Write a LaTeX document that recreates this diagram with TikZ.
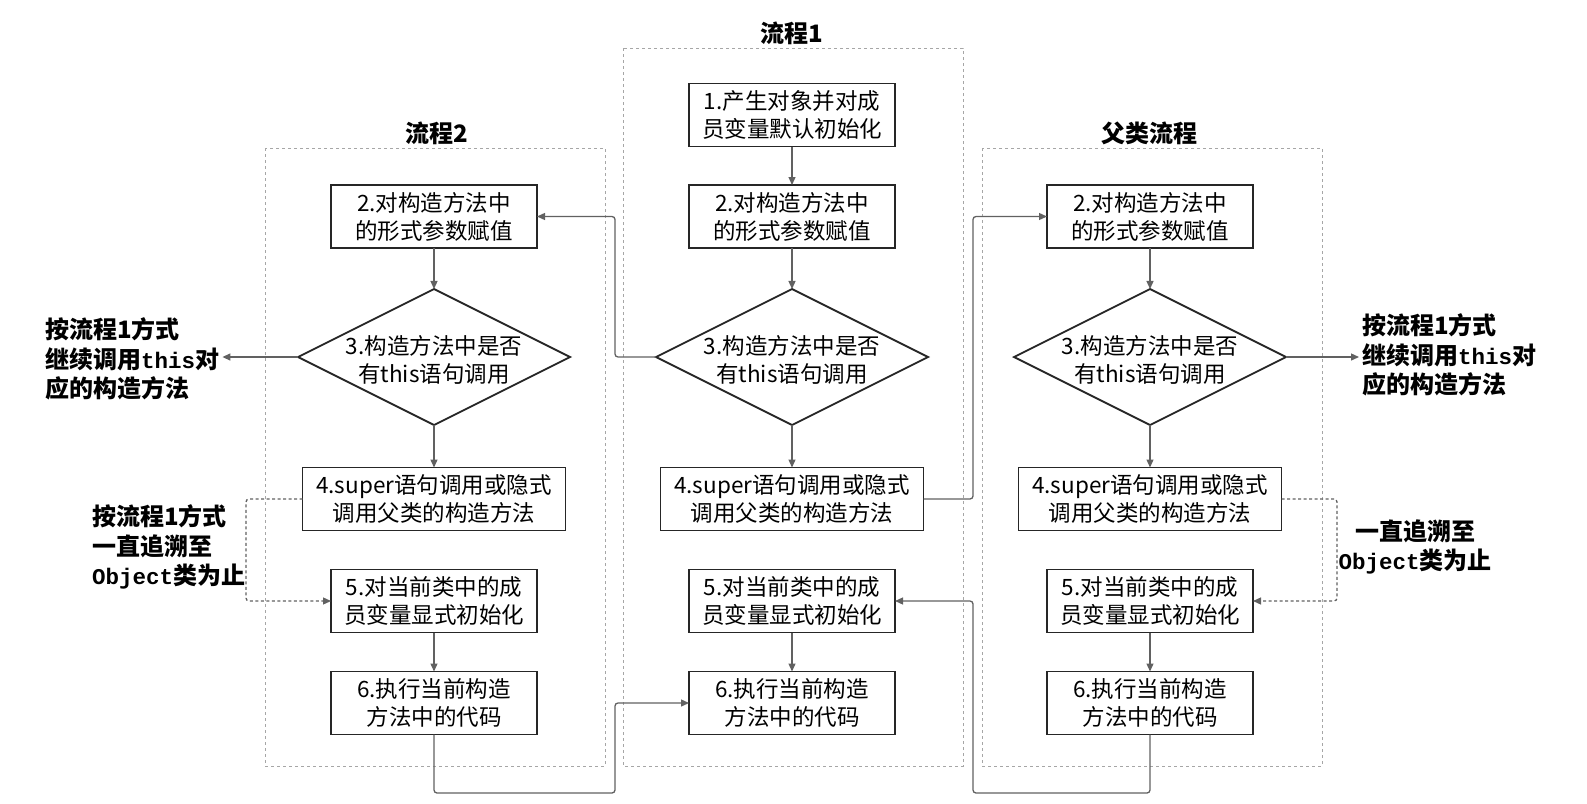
\documentclass[tikz,border=0pt]{standalone}
\usepackage{fontspec}
\setmainfont{Noto Sans CJK SC}
\newfontfamily\monob{Liberation Mono}
\newcommand{\mtxt}[1]{{\monob\bfseries\fontsize{22.5pt}{29pt}\selectfont #1}}
\usetikzlibrary{shapes.geometric,arrows.meta}
\begin{document}
\begin{tikzpicture}[x=1pt,y=-1pt,
  box/.style={draw=black!85, line width=1.8pt, minimum width=206pt, minimum height=63pt,
    inner sep=0pt, outer sep=0pt, align=center, fill=white,
    font=\fontsize{22.5pt}{28pt}\selectfont},
  wbox/.style={box, minimum width=263pt},
  dia/.style={draw=black!85, diamond, line width=1.8pt, minimum width=272pt, minimum height=136pt,
    inner sep=0pt, outer sep=0pt},
  dtext/.style={align=center, inner sep=0pt, font=\fontsize{22.5pt}{28pt}\selectfont},
  conn/.style={draw=black!62, line width=1.3pt, -{Triangle[length=8pt,width=7pt]}, rounded corners=3pt},
  dconn/.style={conn, dash pattern=on 3pt off 2.5pt},
  frame/.style={draw=black!35, line width=1pt, dash pattern=on 3pt off 3pt},
  title/.style={inner sep=0pt, font=\fontsize{24pt}{28pt}\selectfont\bfseries},
  note/.style={inner sep=0pt, font=\fontsize{24pt}{29.5pt}\selectfont\bfseries}
]
\useasboundingbox (0,0) rectangle (1587,803);

% frames
\draw[frame] (265,148) rectangle (605,766);
\draw[frame] (623,48) rectangle (963,766);
\draw[frame] (982,148) rectangle (1322,766);

% titles
\node[title] (tL) at (437,133) {流程2};
\node[title] (tM) at (792,33) {流程1};
\node[title] (tR) at (1149,133) {父类流程};

% middle column
\node[box] (M1) at (792,115) {1.产生对象并对成\\员变量默认初始化};
\node[box] (M2) at (792,216.5) {2.对构造方法中\\的形式参数赋值};
\node[dia] (dM) at (792,357) {};
\node[dtext] (dMt) at (792,360) {3.构造方法中是否\\有this语句调用};
\node[wbox] (M4) at (792,499) {4.super语句调用或隐式\\调用父类的构造方法};
\node[box] (M5) at (792,601) {5.对当前类中的成\\员变量显式初始化};
\node[box] (M6) at (792,703) {6.执行当前构造\\方法中的代码};

% left column
\node[box] (L2) at (434,216.5) {2.对构造方法中\\的形式参数赋值};
\node[dia] (dL) at (434,357) {};
\node[dtext] (dLt) at (434,360) {3.构造方法中是否\\有this语句调用};
\node[wbox] (L4) at (434,499) {4.super语句调用或隐式\\调用父类的构造方法};
\node[box] (L5) at (434,601) {5.对当前类中的成\\员变量显式初始化};
\node[box] (L6) at (434,703) {6.执行当前构造\\方法中的代码};

% right column
\node[box] (R2) at (1150,216.5) {2.对构造方法中\\的形式参数赋值};
\node[dia] (dR) at (1150,357) {};
\node[dtext] (dRt) at (1150,360) {3.构造方法中是否\\有this语句调用};
\node[wbox] (R4) at (1150,499) {4.super语句调用或隐式\\调用父类的构造方法};
\node[box] (R5) at (1150,601) {5.对当前类中的成\\员变量显式初始化};
\node[box] (R6) at (1150,703) {6.执行当前构造\\方法中的代码};

% side notes
\node[note, anchor=west, align=left] (LN1) at (45,359) {按流程1方式\\继续调用\mtxt{this}对\\应的构造方法};
\node[note, anchor=west, align=left] (LN2) at (92,547) {按流程1方式\\一直追溯至\\\mtxt{Object}类为止};
\node[note, anchor=west, align=left] (RN1) at (1362,355) {按流程1方式\\继续调用\mtxt{this}对\\应的构造方法};
\node[note, align=center] (RN2) at (1415,547) {一直追溯至\\\mtxt{Object}类为止};

% junction coordinates
\coordinate (j1) at (615,357);
\coordinate (j2) at (973,499);
\coordinate (k1) at (246,499);
\coordinate (k2) at (1337,499);
\coordinate (b1) at (615,793);
\coordinate (b2) at (973,793);

% vertical flows
\draw[conn] (M1) -- (M2);
\draw[conn] (M2) -- (dM);
\draw[conn] (dM) -- (M4);
\draw[conn] (M5) -- (M6);
\draw[conn] (L2) -- (dL);
\draw[conn] (dL) -- (L4);
\draw[conn] (L5) -- (L6);
\draw[conn] (R2) -- (dR);
\draw[conn] (dR) -- (R4);
\draw[conn] (R5) -- (R6);

% cross-column flows
\draw[conn] (dM.west) -- (j1) |- (L2.east);
\draw[conn] (M4.east) -- (j2) |- (R2.west);
\draw[conn] (L6.south) |- (b1) |- (M6.west);
\draw[conn] (R6.south) |- (b2) |- (M5.east);

% this-calls
\draw[conn] (dL.west) -- ([xshift=3pt]dL.west -| LN1.east);
\draw[conn] (dR.east) -- ([xshift=-3pt]dR.east -| RN1.west);

% dashed loops
\draw[dconn] (L4.west) -- (k1) |- (L5.west);
\draw[dconn] (R4.east) -- (k2) |- (R5.east);
\end{tikzpicture}
\end{document}
